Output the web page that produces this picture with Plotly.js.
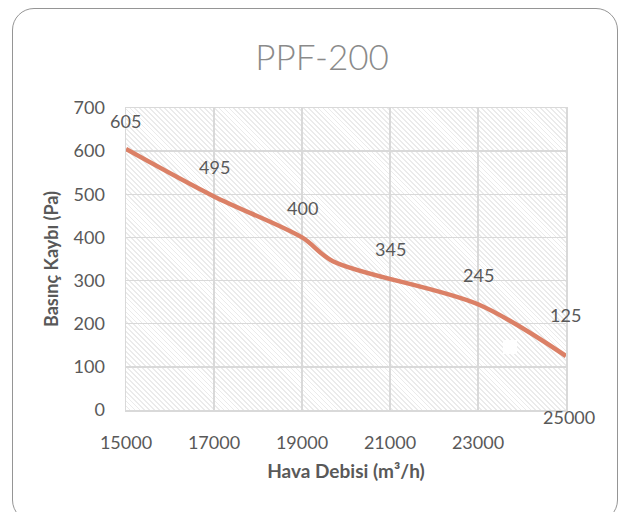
<!DOCTYPE html>
<html>
<head>
<meta charset="utf-8">
<script src="https://cdn.plot.ly/plotly-3.0.1.min.js"></script>
<style>
  html, body { margin: 0; padding: 0; background: #ffffff; }
  #wrap { position: relative; width: 629px; height: 512px; overflow: hidden; }
  /* hatched plot-area fill behind the transparent Plotly plot */
  #hatch {
    position: absolute; left: 126px; top: 108px; width: 440px; height: 302px;
    background: repeating-linear-gradient(45deg, #ffffff 0px, #ffffff 2.2px, #ebebeb 2.2px, #ebebeb 3.5px);
    z-index: 0;
  }
  #patch { position: absolute; left: 503px; top: 340px; width: 14px; height: 14px; background: #ffffff; z-index: 0; }
  #chart { position: absolute; left: 0; top: 0; width: 629px; height: 512px; z-index: 1; }
  #frame {
    position: absolute; left: 12px; top: 8px; width: 604px; height: 512px;
    border: 1px solid #959595; border-radius: 22px; z-index: 2; pointer-events: none;
  }
</style>
</head>
<body>
<div id="wrap">
  <div id="hatch"></div>
  <div id="patch"></div>
  <div id="chart"></div>
  <div id="frame"></div>
</div>
<script>
// Air flow (m³/h) against pressure loss (Pa) for the PPF-200
const airflow = [15000, 17000, 19000, 19700, 23000, 25000];
const pressure = [605, 495, 400, 345, 245, 125];

// axis ticks
const xTicks = [15000, 17000, 19000, 21000, 23000, 25000];
const yTicks = [0, 100, 200, 300, 400, 500, 600, 700];

const grey = '#595959';
const fontFamily = 'Lato, "Open Sans", sans-serif';

// value label offsets (px) relative to each point
const labelShiftX = [-1, 0, 0, 58, 0, -1];
const labelShiftY = [28, 29, 29, 12, 29, 41];

const annotations = airflow.map((x, i) => ({
  x: x, y: pressure[i], xref: 'x', yref: 'y',
  text: String(pressure[i]), showarrow: false,
  xshift: labelShiftX[i], yshift: labelShiftY[i],
  font: { family: fontFamily, size: 18, color: grey }
}));

// the last x tick label sits lower right of the axis end
annotations.push({
  x: xTicks[xTicks.length - 1], y: 0, xref: 'x', yref: 'y',
  text: String(xTicks[xTicks.length - 1]), showarrow: false,
  xshift: 3, yshift: -7,
  font: { family: fontFamily, size: 18, color: grey }
});

const trace = {
  x: airflow, y: pressure, type: 'scatter', mode: 'lines',
  line: { color: '#db8066', width: 4.5, shape: 'spline', smoothing: 0.9 },
  hoverinfo: 'skip'
};

const layout = {
  width: 629, height: 512,
  margin: { l: 126, r: 63, t: 108, b: 102 },
  paper_bgcolor: 'rgba(0,0,0,0)', plot_bgcolor: 'rgba(0,0,0,0)',
  showlegend: false,
  title: {
    text: 'PPF-200', x: 0.512, xanchor: 'center', y: 0.888, yanchor: 'middle',
    font: { family: fontFamily, size: 35, color: '#8a8a8a', weight: 300 }
  },
  xaxis: {
    range: [15000, 25000], tickvals: xTicks,
    ticktext: xTicks.map((v, i) => i === xTicks.length - 1 ? '' : String(v)),
    showgrid: true, gridcolor: '#d9d9d9', gridwidth: 1.5,
    showline: true, linecolor: '#d9d9d9', linewidth: 1.5, mirror: true,
    zeroline: false, ticks: '', ticklabelstandoff: 16,
    tickfont: { family: fontFamily, size: 18, color: grey },
    title: { text: 'Hava Debisi (m³/h)', standoff: 12,
      font: { family: fontFamily, size: 19, color: grey, weight: 700 } }
  },
  yaxis: {
    range: [0, 700], tickvals: yTicks,
    showgrid: true, gridcolor: '#d9d9d9', gridwidth: 1.5,
    showline: true, linecolor: '#d9d9d9', linewidth: 1.5, mirror: true,
    zeroline: false, ticks: '', ticklabelstandoff: 16,
    tickfont: { family: fontFamily, size: 18, color: grey },
    title: { text: 'Basınç Kaybı (Pa)', standoff: 10,
      font: { family: fontFamily, size: 18, color: grey, weight: 700 } }
  },
  annotations: annotations
};

Plotly.newPlot('chart', [trace], layout, { staticPlot: true, displayModeBar: false });
</script>
</body>
</html>
